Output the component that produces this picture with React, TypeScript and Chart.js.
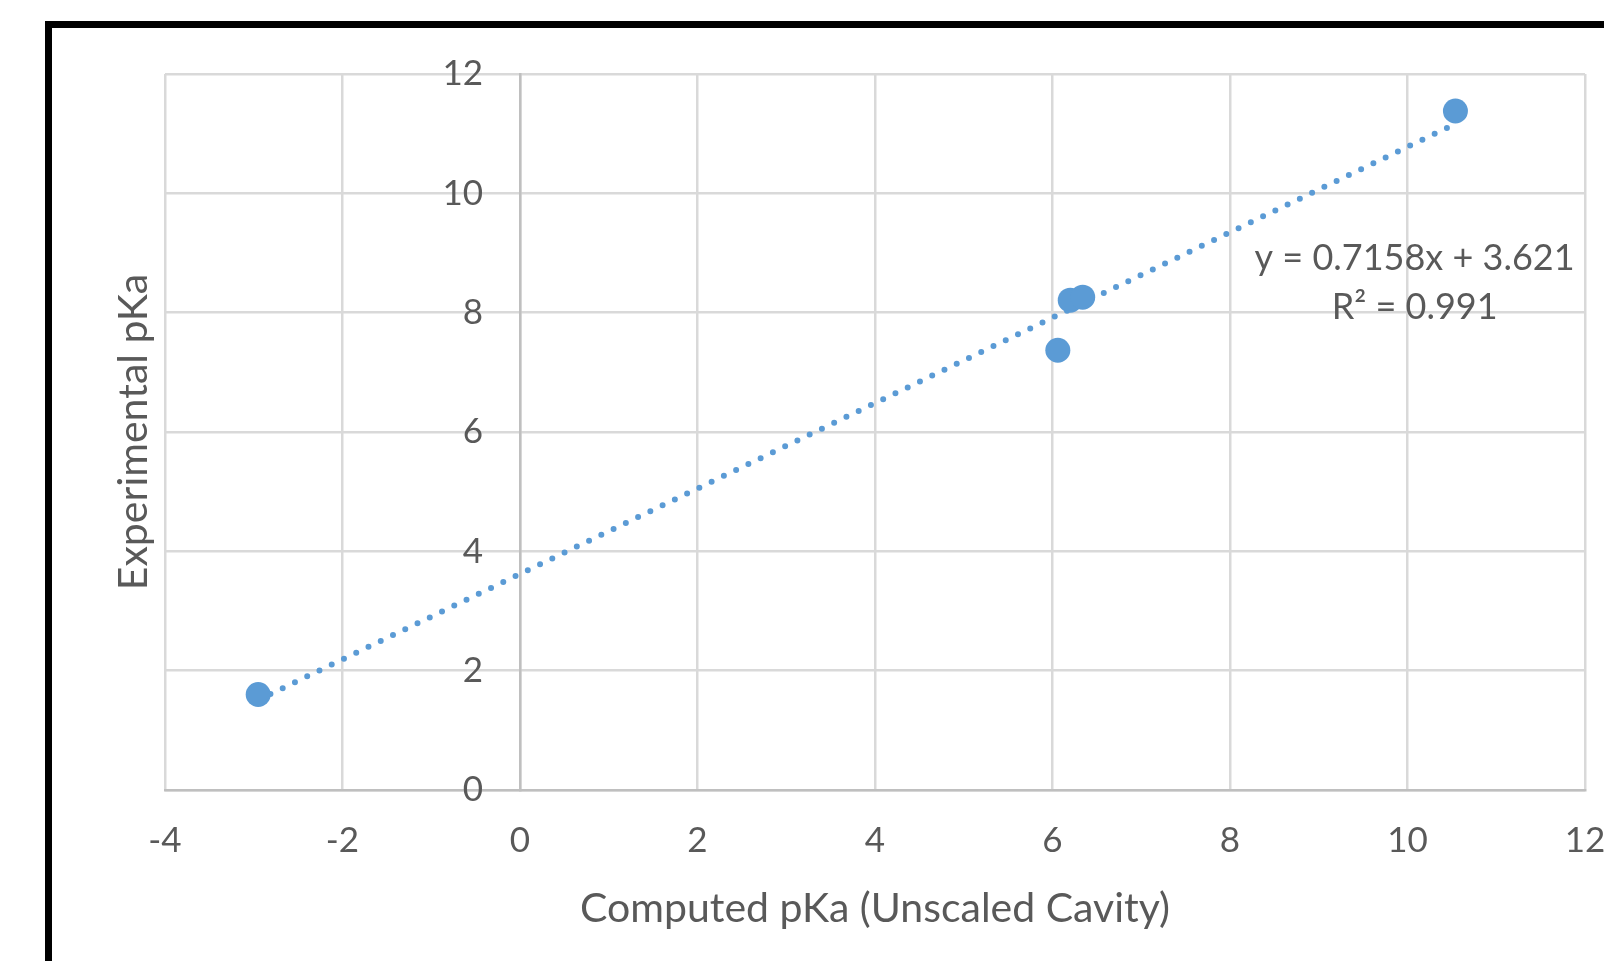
import React, { useEffect, useRef } from "react";
import { Chart, registerables } from "chart.js";

Chart.register(...registerables);

// ---- data ----
const X_VALUES = [-2.95, 6.06, 6.2, 6.34, 10.54];
const Y_VALUES = [1.6, 7.37, 8.21, 8.26, 11.38];
const TREND_SLOPE = 0.7158;
const TREND_INTERCEPT = 3.621;
const TREND_LABEL = ["y = 0.7158x + 3.621", "R² = 0.991"];
const X_TITLE = "Computed pKa (Unscaled Cavity)";
const Y_TITLE = "Experimental pKa";
const X_RANGE = [-4, 12];
const Y_RANGE = [0, 12];
const TICK_STEP = 2;

// ---- style ----
const FONT = "Lato";
const TICK_SIZE = 35;
const TITLE_SIZE = 41;
const LABEL_SIZE = 36;
const TEXT_COLOR = "#595959";
const GRID_COLOR = "#d9d9d9";
const AXIS_COLOR = "#bfbfbf";
const MARK_COLOR = "#5b9bd5";
const W = 1604;
const H = 961;
const LABEL_ANCHOR_X = 10.08;
const LABEL_ANCHOR_Y = [8.91, 8.09];
const Y_LABEL_GAP = 37;

const framePlugin = {
  id: "frame",
  beforeDraw(chart: any) {
    const ctx = chart.ctx;
    ctx.save();
    ctx.fillStyle = "#ffffff";
    ctx.fillRect(0, 0, chart.width, chart.height);
    ctx.fillStyle = "#000000";
    ctx.fillRect(45, 21, chart.width - 45, 7);
    ctx.fillRect(45, 21, 7, chart.height - 21);
    ctx.restore();
    // move y tick labels away from the x = 0 axis line
    const ys = chart.scales.y;
    const items = ys.getLabelItems(chart.chartArea);
    if (!items.__shifted) {
      items.forEach((it: any) => {
        it.options.translation[0] -= Y_LABEL_GAP;
      });
      items.__shifted = true;
    }
  },
};

const trendLabelPlugin = {
  id: "trendLabel",
  afterDatasetsDraw(chart: any) {
    const ctx = chart.ctx;
    const xs = chart.scales.x;
    const ys = chart.scales.y;
    ctx.save();
    ctx.font = `${LABEL_SIZE}px ${FONT}`;
    ctx.fillStyle = TEXT_COLOR;
    ctx.textAlign = "center";
    ctx.textBaseline = "middle";
    TREND_LABEL.forEach((t, i) => {
      ctx.fillText(t, xs.getPixelForValue(LABEL_ANCHOR_X), ys.getPixelForValue(LABEL_ANCHOR_Y[i]));
    });
    ctx.restore();
  },
};

export default function App() {
  const ref = useRef<HTMLCanvasElement | null>(null);

  useEffect(() => {
    document.body.style.margin = "0";
    let chart: Chart | null = null;
    let cancelled = false;

    const build = () => {
      if (cancelled || !ref.current) return;
      const points = X_VALUES.map((x, i) => ({ x, y: Y_VALUES[i] }));
      const xMin = Math.min(...X_VALUES);
      const xMax = Math.max(...X_VALUES);
      const trend = [
        { x: xMin, y: TREND_SLOPE * xMin + TREND_INTERCEPT },
        { x: xMax, y: TREND_SLOPE * xMax + TREND_INTERCEPT },
      ];
      const tickFont = { family: FONT, size: TICK_SIZE };
      const titleFont = { family: FONT, size: TITLE_SIZE };
      chart = new Chart(ref.current, {
        type: "scatter",
        data: {
          datasets: [
            {
              label: "data",
              data: points,
              backgroundColor: MARK_COLOR,
              borderWidth: 0,
              pointRadius: 12.5,
              pointHoverRadius: 12.5,
              order: 0,
            },
            {
              label: "trend",
              data: trend,
              showLine: true,
              borderColor: MARK_COLOR,
              borderWidth: 6,
              borderDash: [0, 13.6],
              borderCapStyle: "round",
              pointRadius: 0,
              pointHoverRadius: 0,
              fill: false,
              order: 1,
            } as any,
          ],
        },
        options: {
          animation: false,
          responsive: false,
          devicePixelRatio: 1,
          layout: { padding: { top: 74, right: 19, left: 0, bottom: 0 } },
          plugins: { legend: { display: false }, tooltip: { enabled: false } },
          scales: {
            x: {
              type: "linear",
              position: "bottom",
              min: X_RANGE[0],
              max: X_RANGE[1],
              ticks: { stepSize: TICK_STEP, color: TEXT_COLOR, font: tickFont, padding: 30 },
              grid: { color: GRID_COLOR, lineWidth: 2.5, drawTicks: false },
              border: { color: AXIS_COLOR, width: 2.5 },
              title: {
                display: true,
                text: X_TITLE,
                color: TEXT_COLOR,
                font: titleFont,
                padding: { top: 0, bottom: 28 },
              },
              afterFit(scale: any) {
                scale.height = H - 790;
                scale.paddingLeft = 0;
                scale.paddingRight = 0;
              },
            },
            y: {
              type: "linear",
              position: { x: 0 } as any,
              min: Y_RANGE[0],
              max: Y_RANGE[1],
              ticks: { stepSize: TICK_STEP, color: TEXT_COLOR, font: tickFont, padding: 10 },
              grid: { color: GRID_COLOR, lineWidth: 2.5, drawTicks: false },
              border: { color: AXIS_COLOR, width: 2.5 },
              afterFit(scale: any) {
                scale.paddingTop = 0;
                scale.paddingBottom = 0;
              },
            },
            yTitle: {
              type: "linear",
              position: "left",
              grid: { display: false },
              border: { display: false },
              ticks: { display: false },
              title: {
                display: true,
                text: Y_TITLE,
                color: TEXT_COLOR,
                font: titleFont,
                padding: { top: 109, bottom: 0 },
              },
              afterFit(scale: any) {
                scale.width = 165;
                scale.paddingTop = 0;
                scale.paddingBottom = 0;
              },
            },
          },
        } as any,
        plugins: [framePlugin, trendLabelPlugin],
      });
    };

    const fontsReady = (document as any).fonts
      ? Promise.all([
          (document as any).fonts.load(`${TICK_SIZE}px ${FONT}`),
          (document as any).fonts.load(`${TITLE_SIZE}px ${FONT}`),
        ]).catch(() => null)
      : Promise.resolve();
    Promise.resolve(fontsReady).then(build);

    return () => {
      cancelled = true;
      if (chart) chart.destroy();
    };
  }, []);

  return (
    <div style={{ width: W, height: H }}>
      <canvas ref={ref} width={W} height={H} style={{ display: "block" }} />
    </div>
  );
}
